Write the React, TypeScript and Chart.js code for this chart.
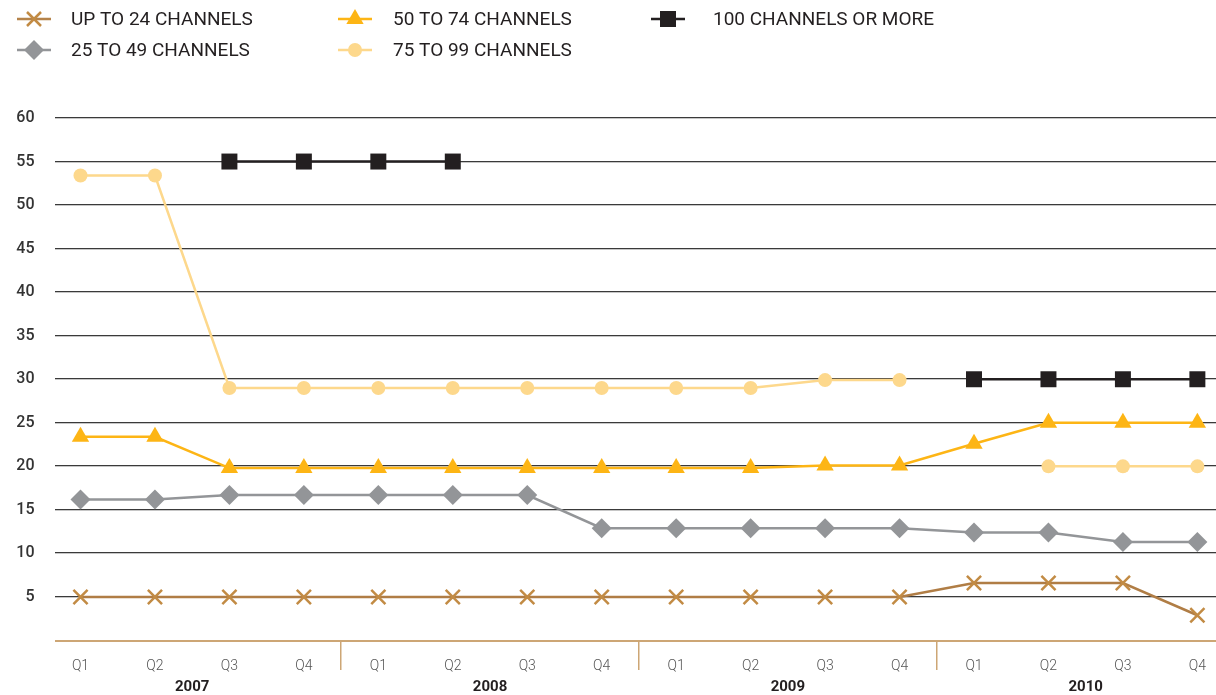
import React, { useEffect, useRef } from 'react';
import { Chart, registerables } from 'chart.js';

Chart.register(...registerables);

const quarters = ['Q1', 'Q2', 'Q3', 'Q4', 'Q1', 'Q2', 'Q3', 'Q4', 'Q1', 'Q2', 'Q3', 'Q4', 'Q1', 'Q2', 'Q3', 'Q4'];
const years = ['2007', '2008', '2009', '2010'];
const yTicks = [5, 10, 15, 20, 25, 30, 35, 40, 45, 50, 55, 60];

const upTo24 = [5, 5, 5, 5, 5, 5, 5, 5, 5, 5, 5, 5, 6.6, 6.6, 6.6, 2.9];
const ch25to49 = [16.2, 16.2, 16.7, 16.7, 16.7, 16.7, 16.7, 12.9, 12.9, 12.9, 12.9, 12.9, 12.4, 12.4, 11.3, 11.3];
const ch50to74 = [23.4, 23.4, 19.8, 19.8, 19.8, 19.8, 19.8, 19.8, 19.8, 19.8, 20.1, 20.1, 22.6, 25, 25, 25];
const ch75to99 = [53.4, 53.4, 29, 29, 29, 29, 29, 29, 29, 29, 29.9, 29.9, null, 20, 20, 20];
const ch100plus = [null, null, 55, 55, 55, 55, null, null, null, null, null, null, 30, 30, 30, 30];

const W = 1216;
const H = 695;
const FONT = 'Roboto, "Noto Sans", sans-serif';

type Style = { label: string; line: string; fill: string; shape: string; r: number; col: number; row: number };

const legendItems: Style[] = [
  { label: 'UP TO 24 CHANNELS', line: '#B5834A', fill: '#C28B44', shape: 'cross', r: 7, col: 0, row: 0 },
  { label: '25 TO 49 CHANNELS', line: '#939598', fill: '#939598', shape: 'diamond', r: 10, col: 0, row: 1 },
  { label: '50 TO 74 CHANNELS', line: '#FDB515', fill: '#FDB515', shape: 'triangle', r: 10, col: 1, row: 0 },
  { label: '75 TO 99 CHANNELS', line: '#FDD88C', fill: '#FDD88C', shape: 'circle', r: 7, col: 1, row: 1 },
  { label: '100 CHANNELS OR MORE', line: '#231F20', fill: '#231F20', shape: 'square', r: 8, col: 2, row: 0 },
];
const legendCols = [34, 355, 668];
const legendTextX = [71, 393, 713];
const legendRows = [19, 50];

function drawMarker(ctx: CanvasRenderingContext2D, it: Style, cx: number, cy: number) {
  ctx.fillStyle = it.fill;
  ctx.strokeStyle = it.fill;
  const r = it.r;
  ctx.beginPath();
  if (it.shape === 'cross') {
    ctx.lineWidth = 2.5;
    ctx.moveTo(cx - r, cy - r);
    ctx.lineTo(cx + r, cy + r);
    ctx.moveTo(cx + r, cy - r);
    ctx.lineTo(cx - r, cy + r);
    ctx.stroke();
    return;
  }
  if (it.shape === 'diamond') {
    ctx.moveTo(cx, cy - r);
    ctx.lineTo(cx + r, cy);
    ctx.lineTo(cx, cy + r);
    ctx.lineTo(cx - r, cy);
  } else if (it.shape === 'triangle') {
    ctx.moveTo(cx, cy - r);
    ctx.lineTo(cx + r * 0.866, cy + r * 0.5);
    ctx.lineTo(cx - r * 0.866, cy + r * 0.5);
  } else if (it.shape === 'circle') {
    ctx.arc(cx, cy, r, 0, Math.PI * 2);
  } else {
    ctx.rect(cx - r, cy - r, 2 * r, 2 * r);
  }
  ctx.closePath();
  ctx.fill();
}

const decor = {
  id: 'decor',
  beforeDatasetsDraw(chart: any) {
    const { ctx } = chart;
    const x = chart.scales.x;
    const y = chart.scales.y;
    const gl = 55;
    ctx.save();
    yTicks.forEach((v) => {
      const py = Math.round(y.getPixelForValue(v));
      ctx.fillStyle = '#3a3a3a';
      ctx.fillRect(gl, py - 1, W - gl, 1);
      ctx.fillStyle = '#c6c6c6';
      ctx.fillRect(gl, py, W - gl, 1);
    });
    const by = Math.round(y.getPixelForValue(0));
    ctx.fillStyle = '#CDA675';
    ctx.fillRect(gl, by - 1, W - gl, 2);
    for (let i = 1; i < years.length; i++) {
      const px = (x.getPixelForValue(4 * i - 1) + x.getPixelForValue(4 * i)) / 2;
      ctx.fillStyle = '#CDA675';
      ctx.fillRect(Math.round(px) - 1, by, 1.5, 29);
    }
    ctx.fillStyle = '#231F20';
    ctx.font = `bold 15px ${FONT}`;
    ctx.textAlign = 'center';
    ctx.textBaseline = 'middle';
    years.forEach((yr, i) => {
      const cx = (x.getPixelForValue(4 * i) + x.getPixelForValue(4 * i + 3)) / 2;
      ctx.fillText(yr, cx, 687);
    });
    ctx.restore();
  },
  afterDraw(chart: any) {
    const { ctx } = chart;
    ctx.save();
    legendItems.forEach((it) => {
      const cx = legendCols[it.col];
      const cy = legendRows[it.row];
      ctx.strokeStyle = it.line;
      ctx.lineWidth = 2.5;
      ctx.beginPath();
      ctx.moveTo(cx - 17, cy);
      ctx.lineTo(cx + 17, cy);
      ctx.stroke();
      drawMarker(ctx, it, cx, cy);
      ctx.fillStyle = '#231F20';
      ctx.font = `19px ${FONT}`;
      ctx.textAlign = 'left';
      ctx.textBaseline = 'middle';
      ctx.fillText(it.label, legendTextX[it.col], cy + 1);
    });
    ctx.restore();
  },
};

export default function App() {
  const ref = useRef<HTMLCanvasElement | null>(null);
  useEffect(() => {
    if (!ref.current) return;
    const ds = (label: string, data: (number | null)[], color: string, ptColor: string, style: any, radius: number, bw: number) => ({
      label,
      data,
      borderColor: color,
      backgroundColor: ptColor,
      borderWidth: 2.5,
      pointStyle: style,
      pointRadius: radius,
      pointHoverRadius: radius,
      pointBackgroundColor: ptColor,
      pointBorderColor: ptColor,
      pointBorderWidth: bw,
      spanGaps: false,
      tension: 0,
      clip: false as any,
    });
    const chart = new Chart(ref.current, {
      type: 'line',
      data: {
        labels: quarters,
        datasets: [
          ds('75 TO 99 CHANNELS', ch75to99, '#FDD88C', '#FDD88C', 'circle', 7, 0),
          ds('50 TO 74 CHANNELS', ch50to74, '#FDB515', '#FDB515', 'triangle', 10, 0),
          ds('25 TO 49 CHANNELS', ch25to49, '#939598', '#939598', 'rectRot', 10, 0),
          ds('UP TO 24 CHANNELS', upTo24, '#B07D45', '#C28B44', 'crossRot', 10, 2.5),
          ds('100 CHANNELS OR MORE', ch100plus, '#231F20', '#231F20', 'rect', 11.3, 0),
        ],
      },
      options: {
        responsive: false,
        animation: false,
        layout: { padding: { top: 118, right: 13.5, left: 0, bottom: 0 } },
        plugins: { legend: { display: false }, tooltip: { enabled: false } },
        scales: {
          x: {
            type: 'category',
            offset: false,
            grid: { display: false },
            border: { display: false },
            ticks: {
              color: '#555',
              font: { family: FONT, size: 14, weight: '300' as any },
              padding: 10,
              maxRotation: 0,
              autoSkip: false,
            },
            afterFit: (s: any) => {
              s.height = 54.5;
            },
          },
          y: {
            min: 0,
            max: 60,
            grid: { display: false },
            border: { display: false },
            ticks: {
              stepSize: 5,
              color: '#333',
              font: { family: FONT, size: 16, weight: '500' as any },
              padding: 38,
              callback: (v: any) => (v === 0 ? '' : String(v)),
            },
            afterFit: (s: any) => {
              s.width = 80.5;
            },
          },
        },
      },
      plugins: [decor],
    });
    return () => chart.destroy();
  }, []);
  return (
    <div style={{ position: 'fixed', left: 0, top: 0, width: W, height: H, background: '#fff' }}>
      <canvas ref={ref} width={W} height={H} style={{ display: 'block', width: W, height: H }} />
    </div>
  );
}
